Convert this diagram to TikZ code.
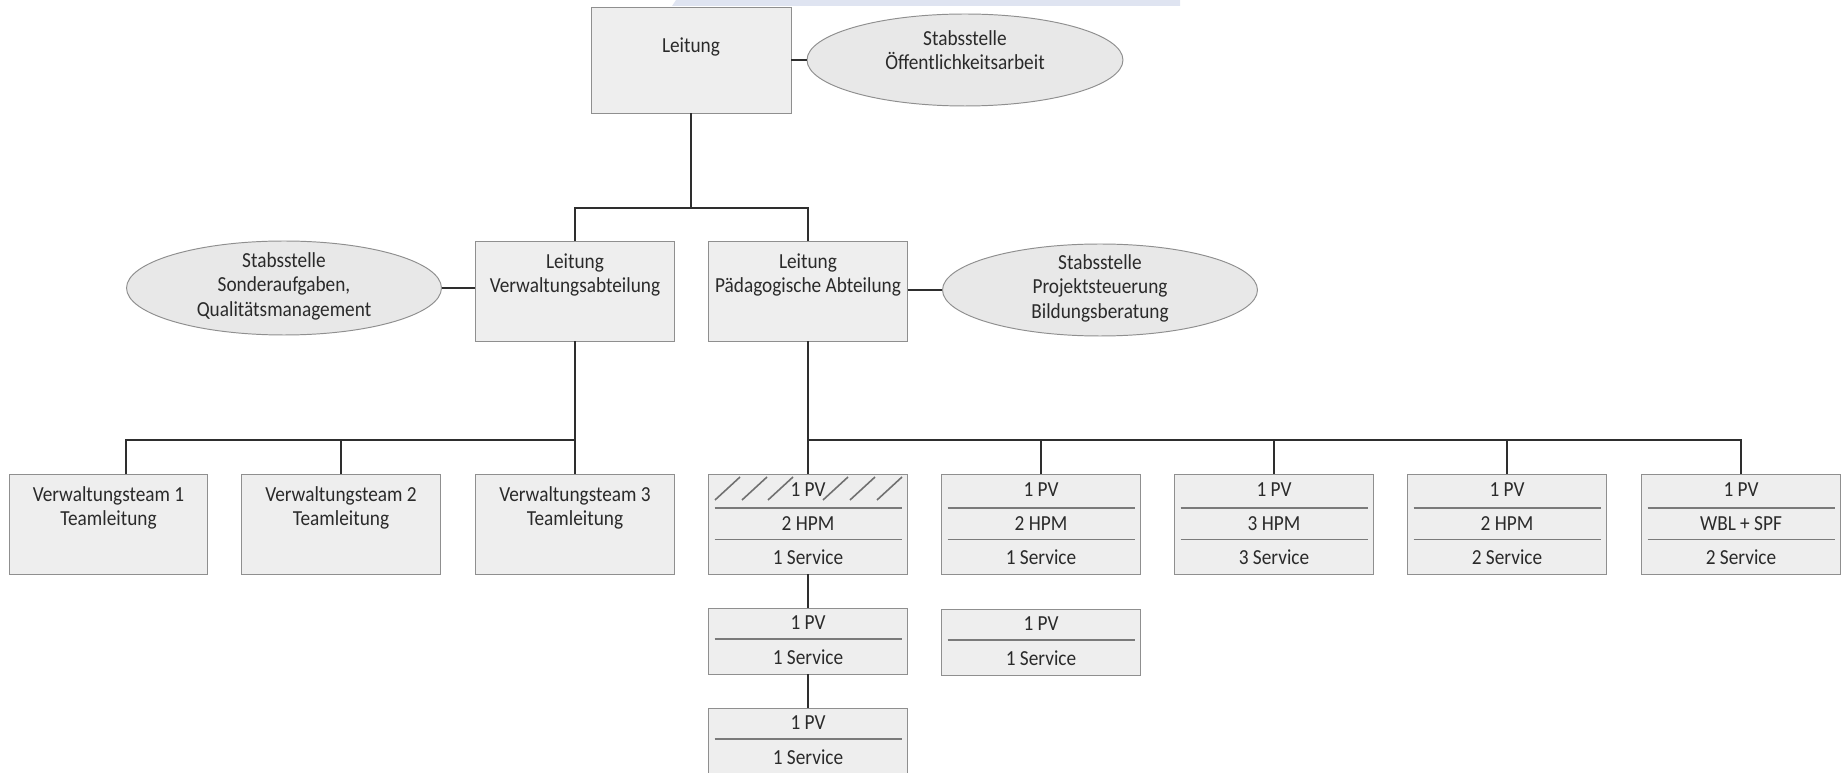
\documentclass[tikz,border=0pt]{standalone}
\usepackage{fontspec}
\setmainfont{Carlito}[FakeStretch=0.9]
\usetikzlibrary{shapes.geometric}

\definecolor{boxgrau}{HTML}{EEEEEE}
\definecolor{ellgrau}{HTML}{E8E8E8}
\definecolor{randgrau}{HTML}{8F8F8F}
\definecolor{liniengrau}{HTML}{2E2E2E}
\definecolor{textgrau}{HTML}{2A2A2A}
\definecolor{trenngrau}{HTML}{7A7A7A}
\definecolor{schraffgrau}{HTML}{707070}
\definecolor{bandblau}{HTML}{DFE4F1}

\tikzset{
    orgbox/.style={draw=randgrau, fill=boxgrau, line width=0.55pt, minimum width=3.98cm, inner sep=0pt},
    orgell/.style={ellipse, draw=randgrau, fill=ellgrau, line width=0.55pt, inner sep=0pt},
    orgtext/.style={text=textgrau, font=\fontsize{12.2}{13.9}\selectfont, align=center, inner sep=0pt},
    verbinder/.style={draw=liniengrau, line width=1.1pt},
    trenn/.style={draw=trenngrau, line width=0.6pt},
    schraffur/.style={draw=schraffgrau, line width=0.9pt}
}

% box with three rows: name, x, top, row 1, row 2, row 3
\newcommand{\pvBox}[6]{
    \node[orgbox, minimum height=2cm] (#1) at (#2,#3+50) {};
    \draw[trenn] (#2-93.5,#3+34) -- (#2+93.5,#3+34);
    \draw[trenn] (#2-93.5,#3+65.5) -- (#2+93.5,#3+65.5);

    \node[orgtext] (#1-a) at (#2,#3+16) {#4};
    \node[orgtext] (#1-b) at (#2,#3+50) {#5};
    \node[orgtext] (#1-c) at (#2,#3+83) {#6};
}
% box with two rows: name, x, top
\newcommand{\pvKlein}[3]{
    \node[orgbox, minimum height=1.32cm] (#1) at (#2,#3+33) {};
    \draw[trenn] (#2-93.5,#3+31) -- (#2+93.5,#3+31);

    \node[orgtext] (#1-a) at (#2,#3+15) {1 PV};
    \node[orgtext] (#1-b) at (#2,#3+49) {1 Service};
}

\begin{document}
\begin{tikzpicture}[x=0.02cm, y=-0.02cm]

    \useasboundingbox (0,0) rectangle (1843,773);
    \fill[bandblau] (676,0) -- (1180,0) -- (1180,6) -- (672,6) -- cycle;

    % top level
    \node[orgbox, minimum width=4cm, minimum height=2.12cm] (leitung) at (691,60) {};
    \node[orgtext] (leitungText) at (691,47) {Leitung};

    \node[orgell, minimum width=6.32cm, minimum height=1.84cm] (oeff) at (965,60) {};
    \node[orgtext] (oeffText) at (965,50) {Stabsstelle\\Öffentlichkeitsarbeit};
    \draw[verbinder] (leitung.east) -- (oeff.west);

    % departments
    \node[orgbox, minimum height=2cm] (va) at (575,291) {};
    \node[orgtext] (vaText) at (575,275) {Leitung\\Verwaltungsabteilung};

    \node[orgbox, minimum height=2cm] (pa) at (808,291) {};
    \node[orgtext] (paText) at (808,275) {Leitung\\Pädagogische Abteilung};

    \node[orgell, minimum width=6.3cm, minimum height=1.88cm] (sonder) at (284,288) {};
    \node[orgtext] (sonderText) at (284,286) {Stabsstelle\\Sonderaufgaben,\\Qualitätsmanagement};
    \draw[verbinder] (sonder.east) -- (sonder.east -| va.west);

    \node[orgell, minimum width=6.3cm, minimum height=1.84cm] (projekt) at (1100,290) {};
    \node[orgtext] (projektText) at (1100,288) {Stabsstelle\\Projektsteuerung\\Bildungsberatung};
    \draw[verbinder] (projekt.west -| pa.east) -- (projekt.west);

    \coordinate (astOben) at (691,208);
    \draw[verbinder] (leitung.south) -- (astOben);
    \draw[verbinder] (va.north) |- (astOben) -| (pa.north);

    % Verwaltung teams
    \node[orgbox, minimum height=2cm] (vt1) at (108.5,524) {};
    \node[orgtext] (vt1Text) at (108.5,508) {Verwaltungsteam 1\\Teamleitung};
    \node[orgbox, minimum height=2cm] (vt2) at (341,524) {};
    \node[orgtext] (vt2Text) at (341,508) {Verwaltungsteam 2\\Teamleitung};
    \node[orgbox, minimum height=2cm] (vt3) at (575,524) {};
    \node[orgtext] (vt3Text) at (575,508) {Verwaltungsteam 3\\Teamleitung};

    \coordinate (astVA) at (575,440);
    \draw[verbinder] (va.south) -- (vt3.north);
    \draw[verbinder] ([xshift=0.35cm]vt1.north) |- (astVA);
    \draw[verbinder] (vt2.north) -- (vt2.north |- astVA);

    % paedagogical teams
    \pvBox{pv1}{808}{474}{1 PV}{2 HPM}{1 Service};
    \pvBox{pv2}{1041}{474}{1 PV}{2 HPM}{1 Service};
    \pvBox{pv3}{1274}{474}{1 PV}{3 HPM}{3 Service};
    \pvBox{pv4}{1507}{474}{1 PV}{2 HPM}{2 Service};
    \pvBox{pv5}{1741}{474}{1 PV}{WBL + SPF}{2 Service};

    \draw[schraffur] (715,500) -- (740,477) (742,500) -- (767,477) (768,500) -- (793,477)
        (823,500) -- (848,477) (850,500) -- (875,477) (877,500) -- (902,477);

    \pvKlein{pv1b}{808}{608};
    \pvKlein{pv1c}{808}{708};
    \pvKlein{pv2b}{1041}{609};

    \coordinate (astPA) at (808,440);
    \draw[verbinder] (pa.south) -- (pv1.north);
    \draw[verbinder] (astPA) -| (pv5.north);
    \draw[verbinder] (pv2.north) -- (pv2.north |- astPA);
    \draw[verbinder] (pv3.north) -- (pv3.north |- astPA);
    \draw[verbinder] (pv4.north) -- (pv4.north |- astPA);
    \draw[verbinder] (pv1.south) -- (pv1b.north);
    \draw[verbinder] (pv1b.south) -- (pv1c.north);

\end{tikzpicture}
\end{document}
